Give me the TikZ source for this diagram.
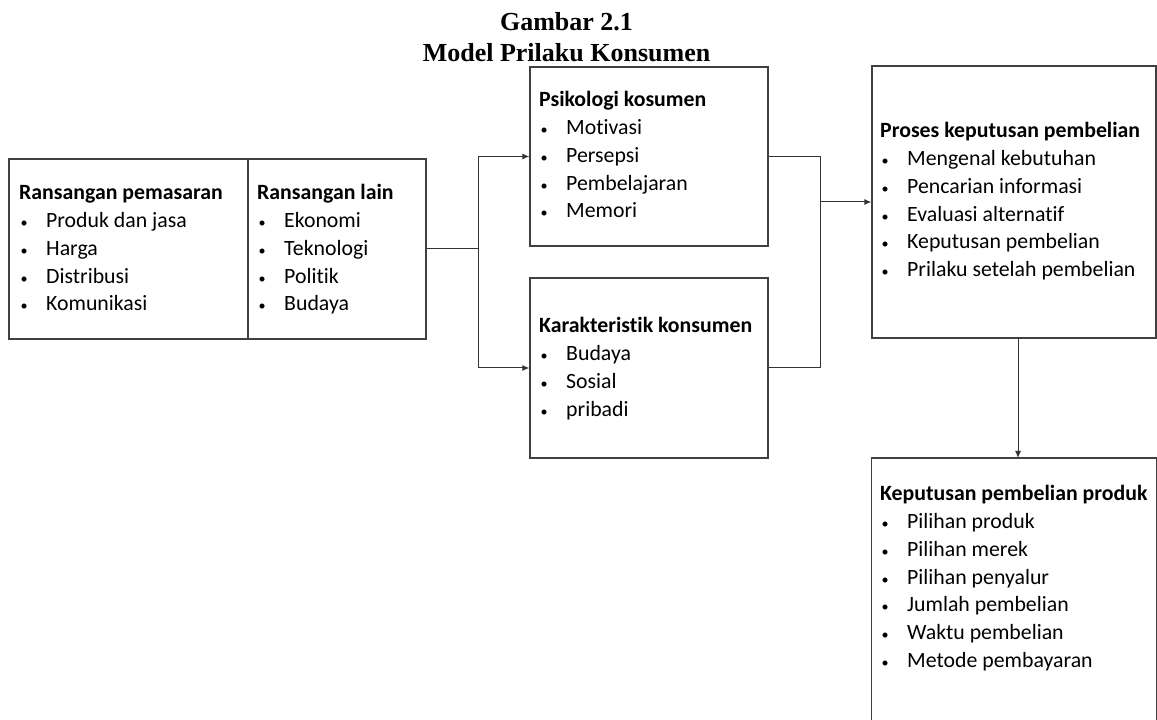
\documentclass[tikz,border=0pt]{standalone}
\usepackage{fontspec}
\setmainfont{Carlito}[Ligatures=NoCommon]
\newfontfamily\titlefont{Liberation Serif}
\usetikzlibrary{calc,arrows.meta}
\usepackage{graphicx}
\newcommand{\mybul}{\makebox[27pt][l]{\hspace{1.5pt}\scalebox{0.65}{\textbullet}}}
\newcommand{\mylist}[4]{%
  \node[hd] (#1h) at (#2) {#3};
  \foreach \t [count=\i] in {#4} {
    \node[itm] (#1\i) at ($(#2)+(0,-\i*27.7)$) {\mybul\t};
  }%
}
\begin{document}
\begin{tikzpicture}[x=1pt,y=1pt,
  boxs/.style={draw=black!75,line width=1.3pt,rectangle,inner sep=0pt,anchor=center},
  hd/.style={anchor=base west,inner sep=0pt,font=\fontsize{21.8}{27.7}\selectfont\bfseries},
  itm/.style={anchor=base west,inner sep=0pt,font=\fontsize{21.8}{27.7}\selectfont},
  ttl/.style={anchor=base,inner sep=0pt,font=\titlefont\fontsize{26}{31}\selectfont\bfseries},
  conn/.style={draw=black!80,line width=1pt},
  arr/.style={conn,-{Latex[length=7pt,width=6pt]}}]
\useasboundingbox (0,0) rectangle (1157,720);
\fill[white] (0,0) rectangle (1157,720);
% title
\node[ttl] (t1) at (566.5,689) {Gambar 2.1};
\node[ttl] (t2) at (566.5,658) {Model Prilaku Konsumen};
% boxes
\node[boxs,minimum width=239pt,minimum height=180pt] (A) at (128.5,471) {};
\node[boxs,minimum width=178pt,minimum height=180pt] (B) at (337,471) {};
\node[boxs,minimum width=238pt,minimum height=179pt] (P) at (649,563.5) {};
\node[boxs,minimum width=238pt,minimum height=180pt] (K) at (649,352) {};
\node[boxs,minimum width=284pt,minimum height=272pt] (D) at (1014,518) {};
\node[inner sep=0pt,minimum width=284pt,minimum height=262pt,anchor=north] (E) at (1014,262) {};
\draw[draw=black!75,line width=1.3pt] (E.south west) -- (E.north west) -- (E.north east) -- (E.south east);
% texts
\mylist{a}{19,520}{Ransangan pemasaran}{Produk dan jasa,Harga,Distribusi,Komunikasi}
\mylist{b}{257,520}{Ransangan lain}{Ekonomi,Teknologi,Politik,Budaya}
\mylist{p}{539,613}{Psikologi kosumen}{Motivasi,Persepsi,Pembelajaran,Memori}
\mylist{k}{539,387}{Karakteristik konsumen}{Budaya,Sosial,pribadi}
\mylist{d}{880,582}{Proses keputusan pembelian}{Mengenal kebutuhan,Pencarian informasi,Evaluasi alternatif,Keputusan pembelian,Prilaku setelah pembelian}
\mylist{e}{880,219}{Keputusan pembelian produk}{Pilihan produk,Pilihan merek,Pilihan penyalur,Jumlah pembelian,Waktu pembelian,Metode pembayaran}
% connectors
\coordinate (j1) at (478,471);
\coordinate (j2) at (820,518);
\draw[conn] (B.east) -- (j1);
\draw[arr] (j1) |- (P.west);
\draw[arr] (j1) |- (K.west);
\draw[conn] (P.east) -| (j2);
\draw[conn] (K.east) -| (j2);
\draw[arr] (j2) -- (D.west);
\draw[arr] ([xshift=4pt]D.south) -- ([xshift=4pt]E.north);
\end{tikzpicture}
\end{document}
